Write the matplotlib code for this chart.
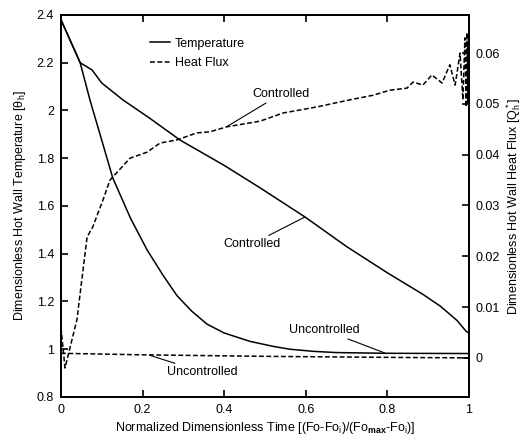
import matplotlib
matplotlib.use("Agg")
import matplotlib.pyplot as plt

plt.rcParams['font.family'] = ['Liberation Sans', 'DejaVu Sans']
plt.rcParams['mathtext.fontset'] = 'custom'
plt.rcParams['mathtext.rm'] = 'Liberation Sans'
plt.rcParams['mathtext.it'] = 'Liberation Sans'
plt.rcParams['mathtext.bf'] = 'Liberation Sans:bold'

# temperature, uncontrolled (left axis)
t_unc_x = [0, 0.047, 0.071, 0.127, 0.17, 0.211, 0.25, 0.284, 0.32, 0.358, 0.40, 0.463, 0.52, 0.561, 0.62, 0.676, 0.8, 1.0]
t_unc_y = [2.38, 2.2, 2.044, 1.717, 1.55, 1.416, 1.31, 1.225, 1.16, 1.105, 1.068, 1.033, 1.012, 1.000, 0.991, 0.986, 0.983, 0.982]

# temperature, controlled (left axis)
t_con_x = [0, 0.047, 0.076, 0.100, 0.152, 0.213, 0.292, 0.40, 0.488, 0.598, 0.70, 0.80, 0.887, 0.93, 0.971, 0.993, 1.0]
t_con_y = [2.38, 2.2, 2.17, 2.115, 2.044, 1.973, 1.876, 1.77, 1.676, 1.554, 1.43, 1.32, 1.23, 1.18, 1.12, 1.075, 1.068]

# heat flux, controlled (right axis)
q_con_x = [0, 0.0098, 0.039, 0.064, 0.078, 0.103, 0.120, 0.169, 0.211, 0.243, 0.284, 0.333, 0.365, 0.407,
           0.488, 0.544, 0.627, 0.708, 0.765, 0.806, 0.848, 0.863, 0.887, 0.909, 0.934, 0.953, 0.966,
           0.978, 0.985, 0.990, 0.993, 0.995, 0.997, 0.998, 1.0]
q_con_y = [0.0060, -0.0020, 0.0075, 0.0238, 0.0258, 0.0311, 0.0350, 0.0393, 0.0405, 0.0423, 0.0429, 0.0443,
           0.0445, 0.0455, 0.0466, 0.0482, 0.0494, 0.0508, 0.0517, 0.0527, 0.0531, 0.0543, 0.0537, 0.0557,
           0.0541, 0.0577, 0.0537, 0.0600, 0.0508, 0.0630, 0.0494, 0.0640, 0.0500, 0.0620, 0.0498]

# heat flux, uncontrolled (right axis)
q_unc_x = [0, 0.2, 0.5, 0.8, 1.0]
q_unc_y = [0.0009, 0.0006, 0.0003, 0.0001, 0.0]

fig = plt.figure(figsize=(5.29, 4.45), dpi=100)
ax = fig.add_axes([0.1153, 0.1079, 0.7713, 0.8584])
ax2 = ax.twinx()

lw = 1.1
dash = (0, (3.2, 1.6))
l1, = ax.plot(t_unc_x, t_unc_y, color='black', lw=lw)
ax.plot(t_con_x, t_con_y, color='black', lw=lw)
l2, = ax2.plot(q_con_x, q_con_y, color='black', lw=lw, linestyle=dash)
ax2.plot(q_unc_x, q_unc_y, color='black', lw=lw, linestyle=dash)

ax.set_xlim(0, 1)
ax.set_ylim(0.8, 2.4)
ax2.set_ylim(-0.0077, 0.0675)

xt = [0, 0.2, 0.4, 0.6, 0.8, 1]
ax.set_xticks(xt)
ax.set_xticklabels(['0', '0.2', '0.4', '0.6', '0.8', '1'])
yt = [0.8, 1.0, 1.2, 1.4, 1.6, 1.8, 2.0, 2.2, 2.4]
ax.set_yticks(yt)
ax.set_yticklabels(['0.8', '1', '1.2', '1.4', '1.6', '1.8', '2', '2.2', '2.4'])
qt = [0, 0.01, 0.02, 0.03, 0.04, 0.05, 0.06]
ax2.set_yticks(qt)
ax2.set_yticklabels(['0', '0.01', '0.02', '0.03', '0.04', '0.05', '0.06'])

ax.tick_params(axis='x', direction='in', top=True, length=5, width=1.2, labelsize=9, pad=5)
ax.tick_params(axis='y', direction='in', length=5, width=1.2, labelsize=9, pad=5)
ax2.tick_params(axis='y', direction='in', length=5, width=1.2, labelsize=9, pad=5)
for a in (ax, ax2):
    for s in a.spines.values():
        s.set_linewidth(1.4)

ax.set_xlabel('Normalized Dimensionless Time [(Fo-Fo$_i$)/(Fo$_{\\mathbf{max}}$-Fo$_i$)]', fontsize=9, labelpad=3)
ax.set_ylabel('Dimensionless Hot Wall Temperature [θ$_h$]', fontsize=9, labelpad=6)
ax2.set_ylabel('Dimensionless Hot Wall Heat Flux [Q$_h^*$]', fontsize=9, labelpad=3)

ax.legend([l1, l2], ['Temperature', 'Heat Flux'], loc='upper left', bbox_to_anchor=(0.19, 0.97),
          frameon=False, fontsize=9, handlelength=1.6, handletextpad=0.4, labelspacing=0.6)

ann = dict(fontsize=9, ha='left', va='center')
arrow = dict(arrowstyle='-', color='black', lw=0.8, shrinkA=0, shrinkB=0)
ax2.annotate('Controlled', xy=(0.406, 0.0455), xytext=(0.468, 0.0519), arrowprops=arrow, **ann)
ax.annotate('Controlled', xy=(0.598, 1.554), xytext=(0.397, 1.44), arrowprops=arrow,
            fontsize=9, ha='left', va='center')
ax.annotate('Uncontrolled', xy=(0.794, 0.984), xytext=(0.56, 1.08), arrowprops=arrow,
            fontsize=9, ha='left', va='center')
ax2.annotate('Uncontrolled', xy=(0.218, 0.0005), xytext=(0.26, -0.0028), arrowprops=arrow, **ann)

fig.savefig('out.png', dpi=100)
